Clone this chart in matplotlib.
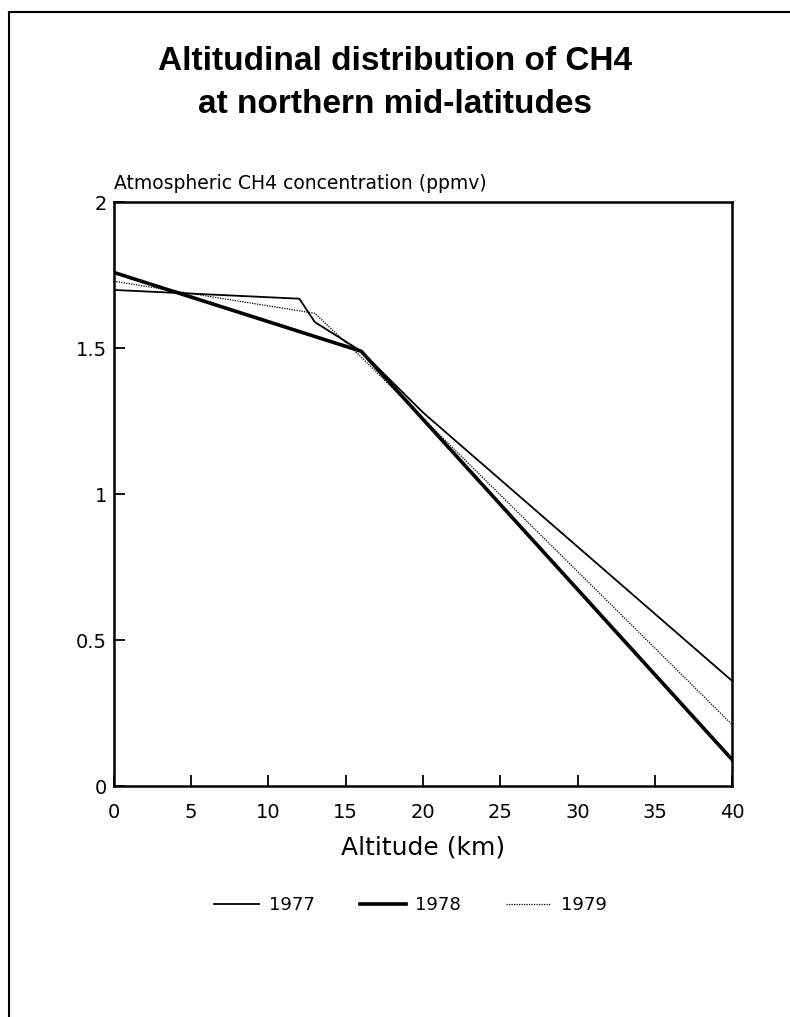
import matplotlib
matplotlib.use("Agg")
import matplotlib.pyplot as plt
from matplotlib.lines import Line2D

plt.rcParams["font.family"] = ["DejaVu Sans"]

# altitude (km) / CH4 (ppmv)
alt_1977 = [0, 12, 13, 16, 20, 40]
ch4_1977 = [1.70, 1.67, 1.59, 1.49, 1.28, 0.36]

alt_1978 = [0, 16, 40]
ch4_1978 = [1.76, 1.49, 0.09]

alt_1979 = [0, 13, 16, 20, 40]
ch4_1979 = [1.73, 1.62, 1.47, 1.26, 0.21]

x_ticks = [0, 5, 10, 15, 20, 25, 30, 35, 40]
y_ticks = [0, 0.5, 1, 1.5, 2]
y_tick_labels = ["0", "0.5", "1", "1.5", "2"]

fig = plt.figure(figsize=(7.9, 10.17), dpi=100)
ax = fig.add_axes([0.144, 0.227, 0.783, 0.574])

ax.plot(alt_1977, ch4_1977, color="black", linewidth=1.3, label="1977")
ax.plot(alt_1978, ch4_1978, color="black", linewidth=2.6, label="1978")
ax.plot(alt_1979, ch4_1979, color="black", linewidth=0.9, linestyle=(0, (1, 1)),
        label="1979")

ax.set_xlim(0, 40)
ax.set_ylim(0, 2)
ax.set_xticks(x_ticks)
ax.set_yticks(y_ticks)
ax.set_yticklabels(y_tick_labels)
ax.tick_params(direction="in", length=8, width=1.3, labelsize=14)
ax.tick_params(axis="x", pad=12)
ax.tick_params(axis="y", pad=5)
for spine in ax.spines.values():
    spine.set_linewidth(1.8)

ax.set_xlabel("Altitude (km)", fontsize=18, labelpad=10)
ax.text(0, 1.016, "Atmospheric CH4 concentration (ppmv)", transform=ax.transAxes,
        ha="left", va="bottom", fontsize=13.5)

title_font = dict(ha="center", va="baseline", fontsize=24, fontweight="bold",
                  family=["Liberation Sans", "DejaVu Sans"])
fig.text(0.5, 0.931, "Altitudinal distribution of CH4", **title_font)
fig.text(0.5, 0.889, "at northern mid-latitudes", **title_font)

fig.legend(loc="center", bbox_to_anchor=(0.52, 0.11), ncol=3, frameon=False,
           fontsize=13, handlelength=2.5, columnspacing=2.5, handletextpad=0.55)

# scanned page border (left and top)
fig.add_artist(Line2D([0.012, 0.012], [0, 0.988], transform=fig.transFigure,
                      color="black", linewidth=1.5))
fig.add_artist(Line2D([0.012, 1.0], [0.988, 0.988], transform=fig.transFigure,
                      color="black", linewidth=1.5))

fig.savefig("out.png", dpi=100)
